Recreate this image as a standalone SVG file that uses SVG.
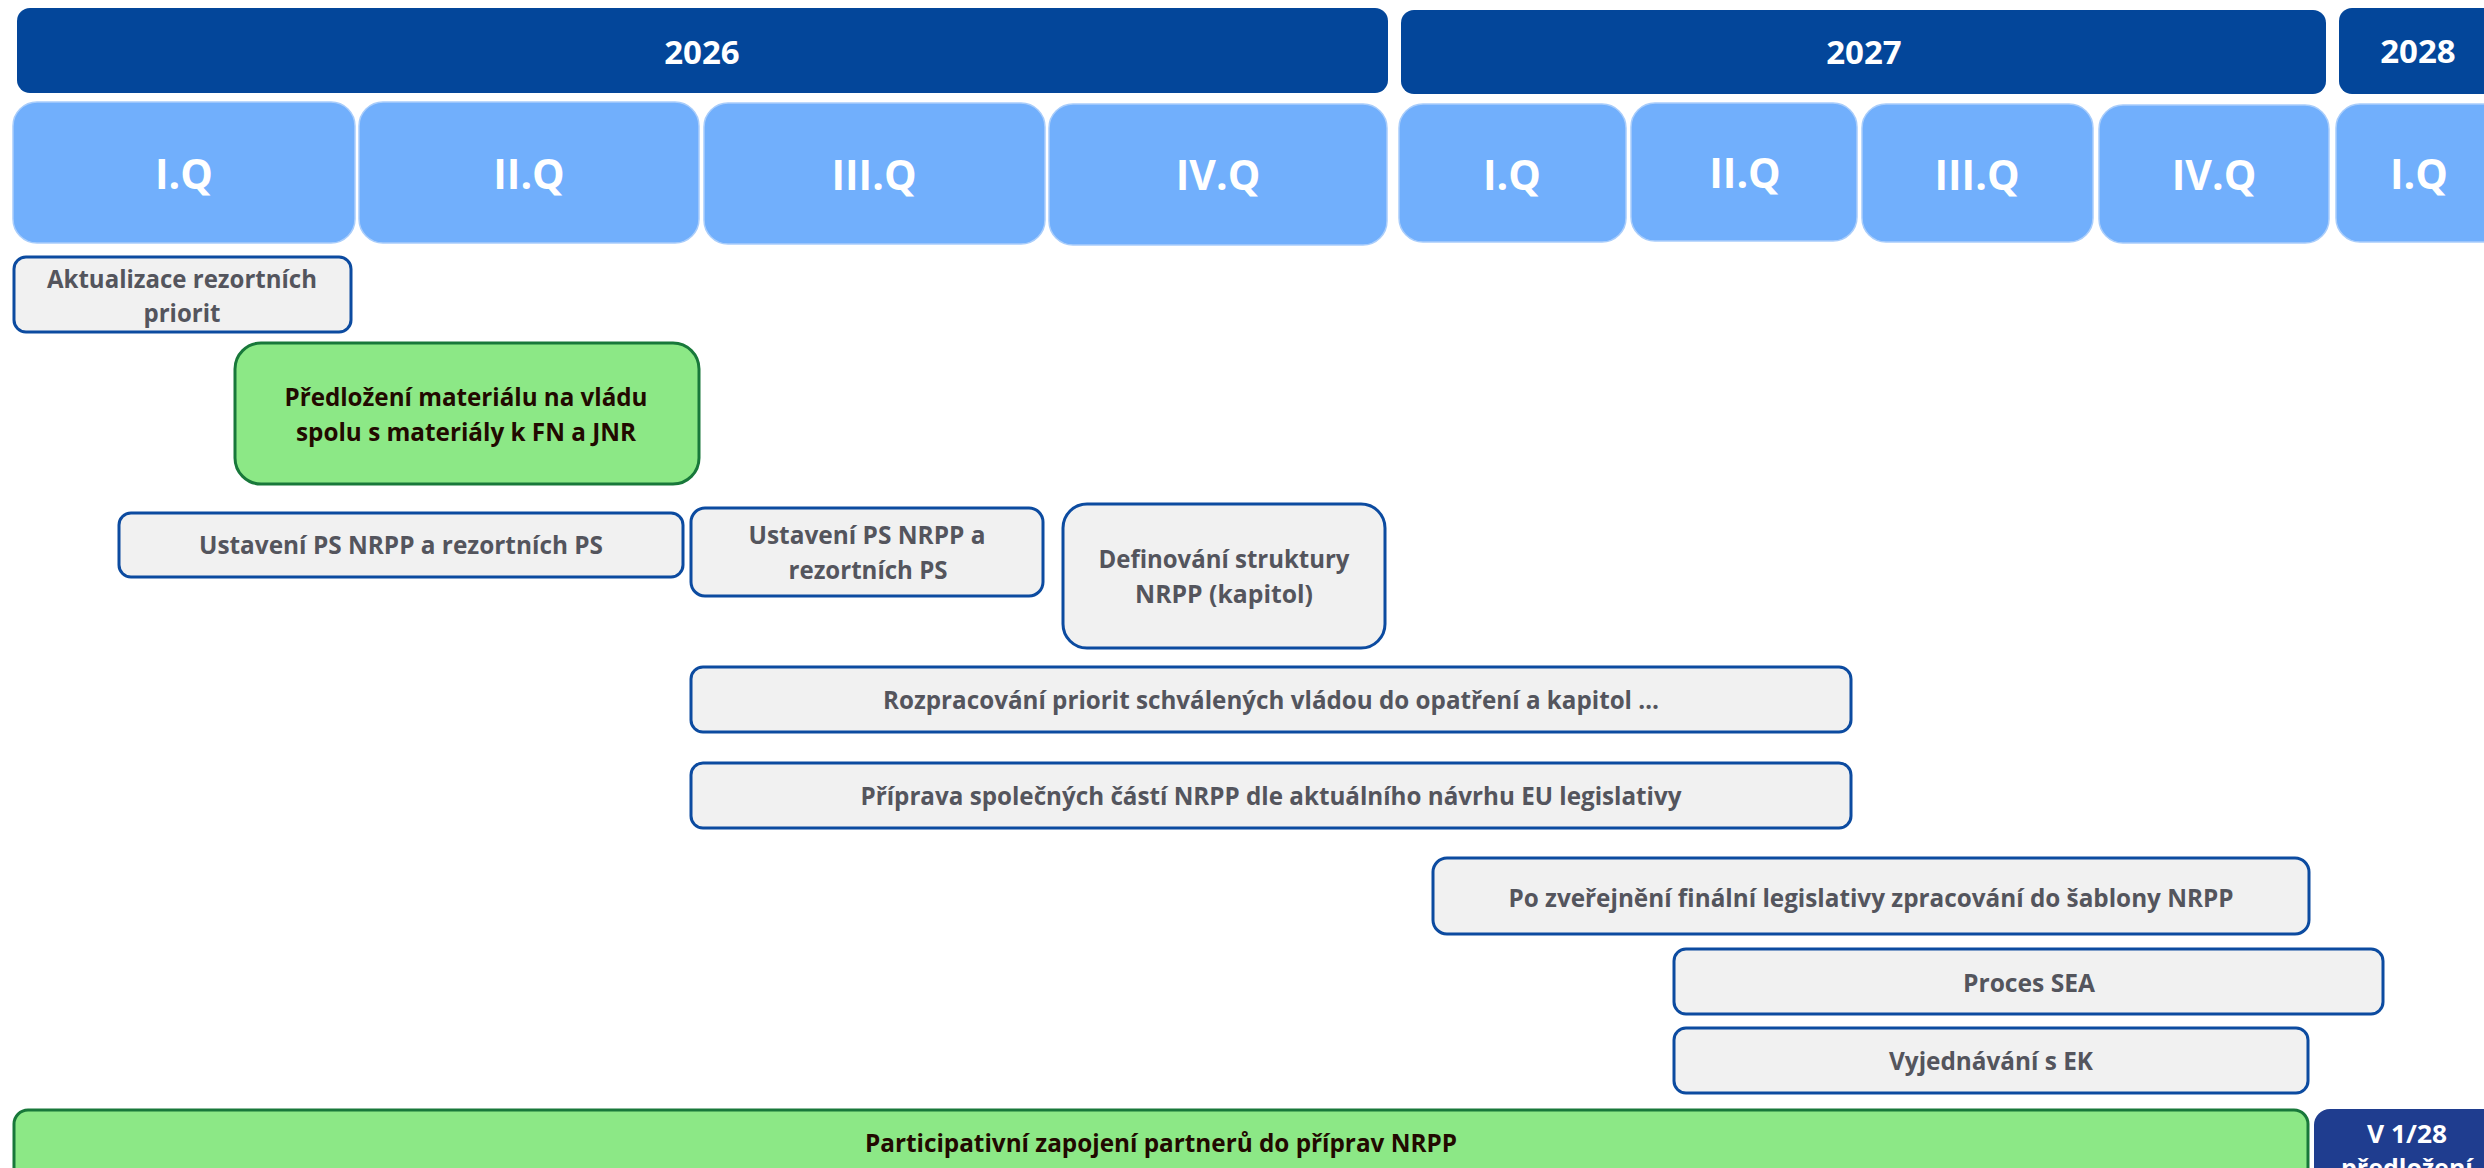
<svg xmlns="http://www.w3.org/2000/svg" width="2484" height="1168" viewBox="0 0 2484 1168">
<style>
.year{fill:#03469A}
.yt{fill:#FFFFFF;font-family:"Open Sans","Liberation Sans",sans-serif;font-weight:700;font-size:33px;text-anchor:middle}
.q{fill:#71AFFC;stroke:#A9CDFB;stroke-width:1.5}
.qt{fill:#FFFFFF;font-family:"Open Sans","Liberation Sans",sans-serif;font-weight:700;font-size:41px;text-anchor:middle}
.task{fill:#F1F1F1;stroke:#0C4BA0;stroke-width:3}
.tt{fill:#54555D;font-family:"Open Sans","Liberation Sans",sans-serif;font-weight:700;font-size:25px;text-anchor:middle}
.green{fill:#8CE886;stroke:#18783A;stroke-width:3}
.gt{fill:#220A00;font-family:"Open Sans","Liberation Sans",sans-serif;font-weight:700;font-size:25px;text-anchor:middle}
.navy{fill:#1F3D8F}
.nt{fill:#FFFFFF;font-family:"Open Sans","Liberation Sans",sans-serif;font-weight:700;font-size:25px;text-anchor:middle}
</style>
<rect width="2484" height="1168" fill="#FFFFFF"/>

<g id="year-2026"><rect class="year" x="17" y="8" width="1371" height="85" rx="13"/><text class="yt" x="702" y="64">2026</text></g>
<g id="year-2027"><rect class="year" x="1401" y="10" width="925" height="84" rx="13"/><text class="yt" x="1864" y="64">2027</text></g>
<g id="year-2028"><rect class="year" x="2339" y="8" width="170" height="86" rx="13"/><text class="yt" x="2418" y="63">2028</text></g>

<g id="q1-2026"><rect class="q" x="13" y="102" width="342" height="141" rx="24"/><text class="qt" x="184" y="189">I.Q</text></g>
<g id="q2-2026"><rect class="q" x="359" y="102" width="340" height="141" rx="24"/><text class="qt" x="529" y="189">II.Q</text></g>
<g id="q3-2026"><rect class="q" x="704" y="103" width="341" height="141" rx="24"/><text class="qt" x="874" y="190">III.Q</text></g>
<g id="q4-2026"><rect class="q" x="1049" y="104" width="338" height="141" rx="24"/><text class="qt" x="1218" y="190">IV.Q</text></g>
<g id="q1-2027"><rect class="q" x="1399" y="104" width="227" height="138" rx="24"/><text class="qt" x="1512" y="190">I.Q</text></g>
<g id="q2-2027"><rect class="q" x="1631" y="103" width="226" height="138" rx="24"/><text class="qt" x="1745" y="188">II.Q</text></g>
<g id="q3-2027"><rect class="q" x="1862" y="104" width="231" height="138" rx="24"/><text class="qt" x="1977" y="190">III.Q</text></g>
<g id="q4-2027"><rect class="q" x="2099" y="105" width="230" height="138" rx="24"/><text class="qt" x="2214" y="190">IV.Q</text></g>
<g id="q1-2028"><rect class="q" x="2336" y="104" width="170" height="138" rx="24"/><text class="qt" x="2419" y="189">I.Q</text></g>

<g id="connectors"></g>

<g id="aktualizace"><rect class="task" x="14" y="257" width="337" height="75" rx="12"/>
<text class="tt" x="182" y="288" textLength="270" lengthAdjust="spacingAndGlyphs">Aktualizace rezortních</text>
<text class="tt" x="182" y="322" textLength="77" lengthAdjust="spacingAndGlyphs">priorit</text></g>

<g id="predlozeni"><rect class="green" x="235" y="343" width="464" height="141" rx="26"/>
<text class="gt" x="466" y="406" textLength="363" lengthAdjust="spacingAndGlyphs">Předložení materiálu na vládu</text>
<text class="gt" x="466" y="441" textLength="340" lengthAdjust="spacingAndGlyphs">spolu s materiály k FN a JNR</text></g>

<g id="ustaveni-1"><rect class="task" x="119" y="513" width="564" height="64" rx="12"/>
<text class="tt" x="401" y="554" textLength="404" lengthAdjust="spacingAndGlyphs">Ustavení PS NRPP a rezortních PS</text></g>

<g id="ustaveni-2"><rect class="task" x="691" y="508" width="352" height="88" rx="14"/>
<text class="tt" x="867" y="544" textLength="237" lengthAdjust="spacingAndGlyphs">Ustavení PS NRPP a</text>
<text class="tt" x="868" y="579" textLength="159" lengthAdjust="spacingAndGlyphs">rezortních PS</text></g>

<g id="definovani"><rect class="task" x="1063" y="504" width="322" height="144" rx="24"/>
<text class="tt" x="1224" y="568" textLength="251" lengthAdjust="spacingAndGlyphs">Definování struktury</text>
<text class="tt" x="1224" y="603" textLength="178" lengthAdjust="spacingAndGlyphs">NRPP (kapitol)</text></g>

<g id="rozpracovani"><rect class="task" x="691" y="667" width="1160" height="65" rx="12"/>
<text class="tt" x="1271" y="709" textLength="776" lengthAdjust="spacingAndGlyphs">Rozpracování priorit schválených vládou do opatření a kapitol …</text></g>

<g id="priprava"><rect class="task" x="691" y="763" width="1160" height="65" rx="12"/>
<text class="tt" x="1271" y="805" textLength="821" lengthAdjust="spacingAndGlyphs">Příprava společných částí NRPP dle aktuálního návrhu EU legislativy</text></g>

<g id="po-zverejneni"><rect class="task" x="1433" y="858" width="876" height="76" rx="14"/>
<text class="tt" x="1871" y="907" textLength="725" lengthAdjust="spacingAndGlyphs">Po zveřejnění finální legislativy zpracování do šablony NRPP</text></g>

<g id="proces-sea"><rect class="task" x="1674" y="949" width="709" height="65" rx="12"/>
<text class="tt" x="2029" y="992" textLength="132" lengthAdjust="spacingAndGlyphs">Proces SEA</text></g>

<g id="vyjednavani"><rect class="task" x="1674" y="1028" width="634" height="65" rx="12"/>
<text class="tt" x="1991" y="1070" textLength="204" lengthAdjust="spacingAndGlyphs">Vyjednávání s EK</text></g>

<g id="participativni"><rect class="green" x="14" y="1110" width="2294" height="90" rx="14"/>
<text class="gt" x="1161" y="1152" textLength="592" lengthAdjust="spacingAndGlyphs">Participativní zapojení partnerů do příprav NRPP</text></g>

<g id="predlozeni-v128"><rect class="navy" x="2314" y="1109" width="186" height="90" rx="16"/>
<text class="nt" x="2407" y="1143" textLength="80" lengthAdjust="spacingAndGlyphs">V 1/28</text>
<text class="nt" x="2407" y="1177">předložení</text></g>
</svg>
